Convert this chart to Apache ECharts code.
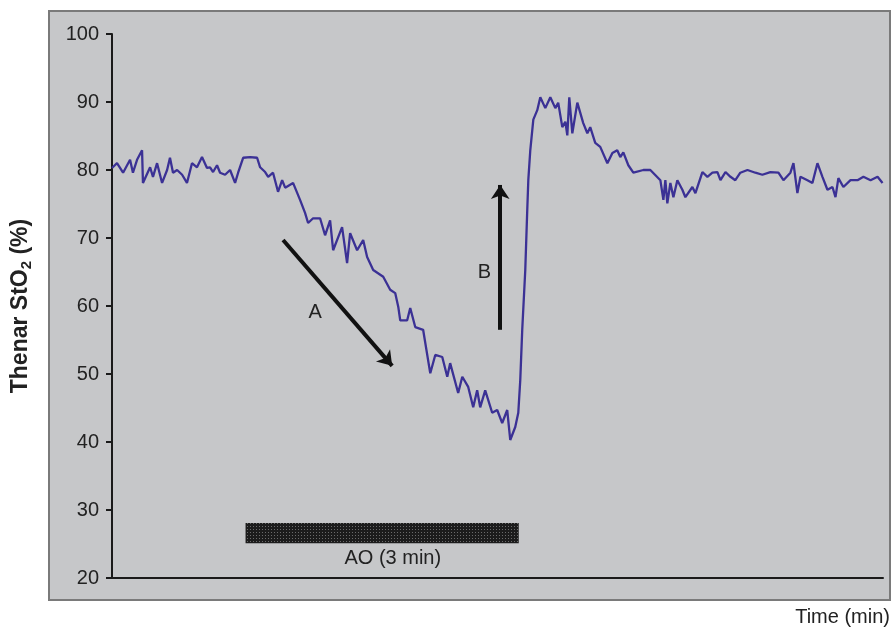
<!DOCTYPE html>
<html>
<head>
<meta charset="utf-8">
<script src="https://cdn.jsdelivr.net/npm/echarts@6/dist/echarts.min.js"></script>
<style>
  html, body { margin: 0; background: #fff; }
  #chart { width: 892px; height: 628px; }
</style>
</head>
<body>
<div id="chart"></div>
<script>
// time (s) and thenar StO2 (%)
var timeSec = [0,3.3,7.3,11.9,13.8,16.5,19.8,20.4,25.1,27.0,29.7,33.0,36.3,38.2,40.2,42.9,46.2,49.4,52.7,56.0,59.3,62.6,64.6,66.6,69.2,71.2,74.5,77.8,81.1,83.1,86.4,91.0,95.6,97.6,100.9,102.9,
  106.1,109.4,112.1,114.1,119.3,123.9,127.2,129.2,132.5,137.1,140.4,143.7,145.7,151.6,154.9,156.9,161.5,165.5,168.1,172.1,178.7,183.3,186.6,188.6,
  189.9,194.5,196.5,199.8,205.0,209.7,213.0,217.6,220.9,222.8,228.1,230.8,234.7,238.0,240.6,242.6,245.9,250.5,253.8,257.1,260.4,262.4,265.7,267.7,269.0,270.3,272.3,273.6,274.3,275.6,277.6,280.2,282.2,
  285.5,288.8,292.1,294.0,296.7,298.7,300.0,301.3,303.3,306.6,310.5,313.2,315.1,318.4,321.7,326.4,329.7,332.9,334.9,336.9,340.2,
  343.5,350.1,354.7,361.3,363.3,364.6,365.9,367.9,369.9,372.5,375.8,377.8,382.4,384.4,389.0,392.3,395.6,398.9,400.9,404.2,407.5,410.7,414.0,418.7,423.9,428.5,433.8,439.1,442.4,447.0,449.0,451.6,453.6,458.2,461.5,464.8,468.1,471.4,474.7,476.7,478.6,481.9,486.6,491.2,495.1,499.8,504.4,507.7];
var sto2 = [80.3,81.0,79.6,81.5,79.6,81.5,82.9,78.1,80.4,79.0,81.0,78.1,80.0,81.8,79.6,80.0,79.3,78.1,81.0,80.4,81.9,80.3,80.4,79.7,80.7,79.6,79.3,80.0,78.1,79.6,81.8,81.9,81.8,80.4,79.7,79.0,
  79.6,76.8,78.5,77.4,78.1,75.6,73.7,72.2,72.9,72.9,70.4,72.6,68.2,71.6,66.3,70.7,68.2,69.7,67.2,65.3,64.3,62.4,61.9,59.9,
  57.9,57.9,59.7,56.9,56.5,50.1,52.8,52.5,49.6,51.6,47.2,49.6,48.1,45.1,47.6,45.1,47.6,44.3,44.7,42.8,44.7,40.3,42.2,44.3,49.1,56.5,65.3,74.1,78.5,82.9,87.4,88.8,90.7,
  89.1,90.7,89.1,89.9,86.3,87.1,85.1,90.7,85.4,89.9,86.9,85.4,86.3,84.0,83.4,81.0,82.5,82.9,81.9,82.6,80.7,
  79.6,80.0,80.0,78.5,75.6,78.5,75.1,78.1,76.0,78.5,77.1,76.0,77.5,76.6,79.7,79.0,79.6,79.7,78.5,79.7,79.0,78.5,79.6,80.0,79.6,79.3,79.7,79.6,78.5,79.6,81.0,76.6,79.0,78.5,78.1,81.0,79.0,77.1,77.5,76.0,78.8,77.5,78.5,78.5,79.0,78.5,79.0,78.1];

var yMin = 20, yMax = 100, yStep = 10;
var tMax = 508;
// arterial occlusion, 3 min
var aoStart = 88, aoEnd = 268;
var aoLow = 25.1, aoHigh = 28.1;
// annotation arrows: A (desaturation) and B (reperfusion)
var arrowA = [[112.7, 69.7], [184.6, 51.2]];
var arrowB = [[255.8, 56.5], [255.8, 77.8]];
var labelPos = { A: [133.8, 59.1], B: [245.3, 64.9], 'AO (3 min)': [185, 22.8] };

// dotted texture for the occlusion bar
var pat = document.createElement('canvas');
pat.width = 3; pat.height = 3;
var pc = pat.getContext('2d');
pc.fillStyle = '#1c1c1c';
pc.fillRect(0, 0, 3, 3);
pc.fillStyle = '#6a6a6a';
pc.fillRect(1, 1, 1, 1);

var chart = echarts.init(document.getElementById('chart'));
var font = 'Liberation Sans, Arial, sans-serif';

var seriesData = timeSec.map(function (t, i) { return [t, sto2[i]]; });
var labels = Object.keys(labelPos).map(function (k) {
  return { name: k, coord: labelPos[k] };
});

chart.setOption({
  animation: false,
  backgroundColor: '#fff',
  textStyle: { fontFamily: font },
  graphic: [
    {
      type: 'rect', z: -10, silent: true,
      shape: { x: 49, y: 11, width: 841, height: 589 },
      style: { fill: '#c6c7c9', stroke: '#7a7a7a', lineWidth: 2 }
    },
    {
      type: 'text', right: 2, top: 607, silent: true,
      style: { text: 'Time (min)', font: '20px ' + font, fill: '#222' }
    }
  ],
  grid: { left: 112, right: 9, top: 34, bottom: 50 },
  xAxis: {
    type: 'value', min: 0, max: tMax,
    axisLine: { show: true, lineStyle: { color: '#1a1a1a', width: 2 } },
    axisTick: { show: false },
    axisLabel: { show: false },
    splitLine: { show: false }
  },
  yAxis: {
    type: 'value', min: yMin, max: yMax, interval: yStep,
    name: '{a|Thenar StO}{s|2}{a| (%)}',
    nameLocation: 'middle', nameGap: 78,
    nameTextStyle: {
      rich: {
        a: { fontSize: 23, fontWeight: 'bold', color: '#222', fontFamily: font },
        s: { fontSize: 15, fontWeight: 'bold', color: '#222', fontFamily: font, padding: [12, 0, 0, 0] }
      }
    },
    axisLine: { show: true, lineStyle: { color: '#1a1a1a', width: 2 } },
    axisTick: { show: true, length: 6, lineStyle: { color: '#1a1a1a', width: 2 } },
    axisLabel: { fontSize: 20, color: '#222', margin: 13 },
    splitLine: { show: false }
  },
  series: [{
    type: 'line',
    data: seriesData,
    showSymbol: false,
    lineStyle: { color: '#3b3195', width: 2.3 },
    markArea: {
      silent: true,
      itemStyle: { color: { image: pat, repeat: 'repeat' } },
      data: [[{ coord: [aoStart, aoLow] }, { coord: [aoEnd, aoHigh] }]]
    },
    markLine: {
      silent: true,
      symbol: ['none', 'arrow'],
      symbolSize: 14,
      label: { show: false },
      lineStyle: { color: '#111', width: 4, type: 'solid' },
      data: [
        [{ coord: arrowA[0] }, { coord: arrowA[1] }],
        [{ coord: arrowB[0] }, { coord: arrowB[1] }]
      ]
    },
    markPoint: {
      silent: true,
      symbol: 'circle', symbolSize: 1,
      itemStyle: { color: 'rgba(0,0,0,0)' },
      label: { show: true, position: 'inside', formatter: function (p) { return p.name; }, fontSize: 20, color: '#222' },
      data: labels
    }
  }]
});
</script>
</body>
</html>
